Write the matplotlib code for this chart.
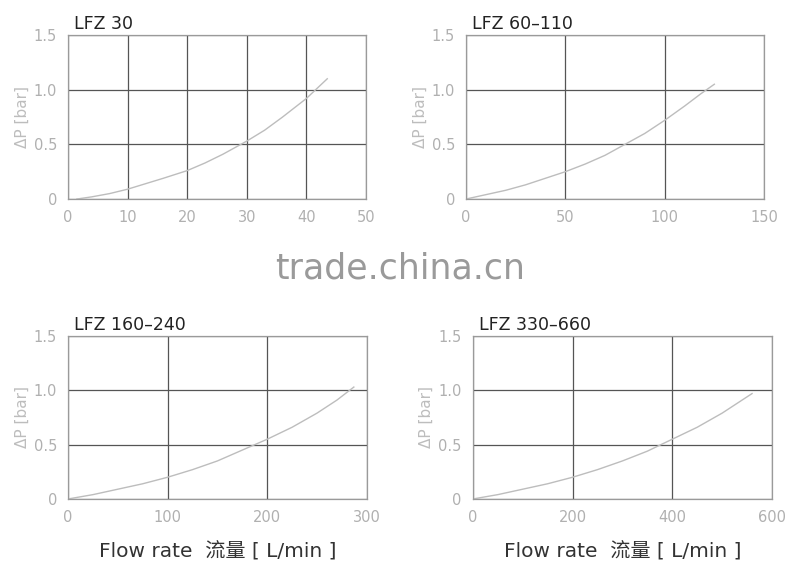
import numpy as np
import matplotlib.pyplot as plt

plt.rcParams['font.family'] = ['DejaVu Sans']

titles = ["LFZ 30", "LFZ 60\u2013110", "LFZ 160\u2013240", "LFZ 330\u2013660"]

flow_1 = [1.5, 4, 7, 10, 13, 16, 20, 23, 26, 30, 33, 36, 40, 43.5]
dp_1 = [0.0, 0.02, 0.05, 0.09, 0.14, 0.19, 0.26, 0.33, 0.41, 0.53, 0.63, 0.75, 0.92, 1.1]

flow_2 = [0, 10, 20, 30, 40, 50, 60, 70, 80, 90, 100, 110, 118, 125]
dp_2 = [0.0, 0.04, 0.08, 0.13, 0.19, 0.25, 0.32, 0.4, 0.5, 0.6, 0.72, 0.85, 0.96, 1.05]

flow_3 = [0, 25, 50, 75, 100, 125, 150, 175, 200, 225, 250, 270, 287]
dp_3 = [0.0, 0.04, 0.09, 0.14, 0.2, 0.27, 0.35, 0.45, 0.55, 0.66, 0.79, 0.91, 1.03]

flow_4 = [0, 50, 100, 150, 200, 250, 300, 350, 400, 450, 500, 530, 560]
dp_4 = [0.0, 0.04, 0.09, 0.14, 0.2, 0.27, 0.35, 0.44, 0.55, 0.66, 0.79, 0.88, 0.97]

xticks_all = [[0, 10, 20, 30, 40, 50], [0, 50, 100, 150], [0, 100, 200, 300], [0, 200, 400, 600]]
yticks = [0, 0.5, 1.0, 1.5]
ytick_labels = ["0", "0.5", "1.0", "1.5"]

fig = plt.figure(figsize=(8, 5.68), dpi=100)

boxes = [
    [0.085, 0.6496, 0.3725, 0.2887],
    [0.5825, 0.6496, 0.3725, 0.2887],
    [0.085, 0.1215, 0.3735, 0.287],
    [0.591, 0.1215, 0.374, 0.287],
]
flows = [flow_1, flow_2, flow_3, flow_4]
dps = [dp_1, dp_2, dp_3, dp_4]

for i in range(4):
    ax = fig.add_axes(boxes[i])
    xt = xticks_all[i]
    ax.plot(flows[i], dps[i], color="#bdbdbd", lw=1.0)
    ax.set_xlim(xt[0], xt[-1])
    ax.set_ylim(0, 1.5)
    ax.set_xticks(xt)
    ax.set_xticklabels([str(v) for v in xt])
    ax.set_yticks(yticks)
    ax.set_yticklabels(ytick_labels)
    ax.grid(True, color="#555555", lw=0.9)
    ax.tick_params(length=0, labelsize=10.5, colors="#b0b0b0", pad=8)
    for s in ax.spines.values():
        s.set_color("#9a9a9a")
        s.set_linewidth(0.9)
    ax.set_ylabel("\u0394P [bar]", color="#bdbdbd", fontsize=11, labelpad=3)
    ax.set_title(titles[i], loc="left", fontsize=12.5, color="#222222",
                 pad=4, x=0.02)
    if i >= 2:
        ax.set_xlabel("Flow rate  流量 [ L/min ]", fontsize=14.5, color="#333333",
                      family=["DejaVu Sans", "Noto Sans CJK SC"], labelpad=12)

fig.text(0.5, 0.528, "trade.china.cn", ha="center", va="center",
         fontsize=25, color="#9a9a9a")

fig.savefig("out.png", dpi=100, facecolor="white")
